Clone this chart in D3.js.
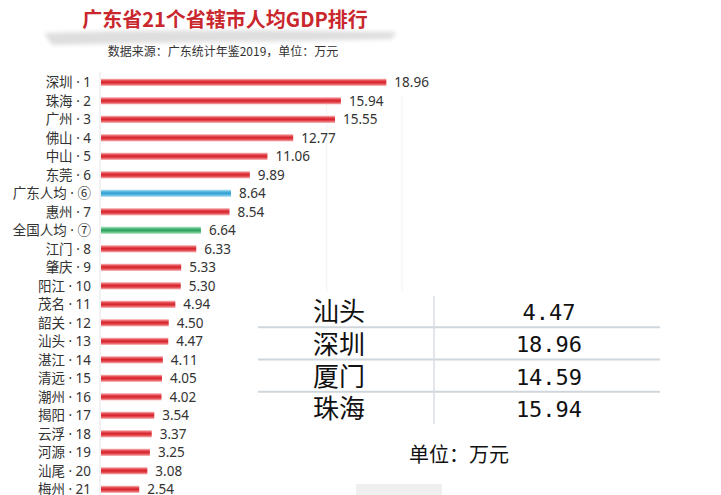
<!DOCTYPE html>
<html>
<head>
<meta charset="utf-8">
<script src="https://cdn.jsdelivr.net/npm/d3@7"></script>
<style>
  body { margin: 0; background: #fff; }
  svg { display: block; font-family: "Noto Sans CJK SC", "Noto Sans", sans-serif; }
</style>
</head>
<body>
<svg id="Vis" width="721" height="495"></svg>
<script>
/*
* DATA
*/
const cities = ["深圳", "珠海", "广州", "佛山", "中山", "东莞", "广东人均", "惠州", "全国人均",
  "江门", "肇庆", "阳江", "茂名", "韶关", "汕头", "湛江", "清远", "潮州", "揭阳", "云浮",
  "河源", "汕尾", "梅州"];
const ranks = ["1", "2", "3", "4", "5", "6", "⑥", "7", "⑦", "8", "9", "10", "11", "12", "13",
  "14", "15", "16", "17", "18", "19", "20", "21"];
const gdp = [18.96, 15.94, 15.55, 12.77, 11.06, 9.89, 8.64, 8.54, 6.64, 6.33, 5.33, 5.30,
  4.94, 4.50, 4.47, 4.11, 4.05, 4.02, 3.54, 3.37, 3.25, 3.08, 2.54];
const barKind = ["red", "red", "red", "red", "red", "red", "blue", "red", "green", "red", "red",
  "red", "red", "red", "red", "red", "red", "red", "red", "red", "red", "red", "red"];

const tableCities = ["汕头", "深圳", "厦门", "珠海"];
const tableValues = ["4.47", "18.96", "14.59", "15.94"];

/*
* SETUP
*/
const svg = d3.select("svg#Vis");

const rows = cities.map((c, i) => ({
  city: c,
  rank: ranks[i],
  label: c + " · " + ranks[i],
  value: gdp[i],
  kind: barKind[i]
}));

const x = d3.scaleLinear().domain([0, 20]).range([101, 402]);
const y = d3.scaleBand()
  .domain(rows.map(d => d.label))
  .range([73, 73 + rows.length * 18.5])
  .paddingInner(0.6)
  .paddingOuter(0.3);

/* Gradients for the tube-like bars */
const defs = svg.append("defs");
const palette = {
  red: ["#fbd0d0", "#e8555b", "#d3222a", "#e8555b", "#f6bcbc"],
  blue: ["#c7e8f6", "#62bde3", "#2f9fd2", "#62bde3", "#bfe4f4"],
  green: ["#c8ecd4", "#5cc184", "#2f9d5c", "#5cc184", "#c0e8cd"]
};
Object.keys(palette).forEach(k => {
  const grad = defs.append("linearGradient")
    .attr("id", "grad-" + k)
    .attr("x1", 0).attr("y1", 0).attr("x2", 0).attr("y2", 1);
  palette[k].forEach((c, i) => {
    grad.append("stop").attr("offset", i / 4).attr("stop-color", c);
  });
});

const blur = defs.append("filter").attr("id", "soft")
  .attr("x", "-10%").attr("y", "-50%").attr("width", "120%").attr("height", "200%");
blur.append("feGaussianBlur").attr("stdDeviation", 2);

/*
* HEADER
*/
svg.append("path")
  .attr("d", "M44,33 L120,31 L260,30 L396,32 L392,39 L300,41 L140,43 L52,45 Z")
  .attr("fill", "#dedede")
  .attr("filter", "url(#soft)");

svg.append("text")
  .attr("x", 225).attr("y", 27)
  .attr("text-anchor", "middle")
  .attr("font-size", 20)
  .attr("font-weight", "bold")
  .attr("fill", "#c9272d")
  .text("广东省21个省辖市人均GDP排行");

svg.append("text")
  .attr("x", 223).attr("y", 56)
  .attr("text-anchor", "middle")
  .attr("font-size", 12)
  .attr("fill", "#333")
  .text("数据来源：广东统计年鉴2019，单位：万元");

/*
* GRID + AXIS
*/
svg.append("g")
  .selectAll("line")
  .data([15, 20])
  .join("line")
  .attr("x1", d => x(d)).attr("x2", d => x(d))
  .attr("y1", 95).attr("y2", 296)
  .attr("stroke", "#f2f2f2");

svg.append("line")
  .attr("x1", 100).attr("x2", 100)
  .attr("y1", 72).attr("y2", 495)
  .attr("stroke", "#e4e4e4");

/*
* BARS
*/
const bars = svg.append("g");

bars.selectAll("rect")
  .data(rows)
  .join("rect")
  .attr("x", x(0))
  .attr("y", d => y(d.label))
  .attr("width", d => x(d.value) - x(0))
  .attr("height", y.bandwidth())
  .attr("fill", d => "url(#grad-" + d.kind + ")");

/* name + narrow middle dot + rank */
const names = bars.selectAll("text.name")
  .data(rows)
  .join("text")
  .attr("class", "name")
  .attr("x", 91)
  .attr("y", d => y(d.label) + y.bandwidth() / 2)
  .attr("dy", "0.36em")
  .attr("text-anchor", "end")
  .attr("font-size", 13.5)
  .attr("fill", "#333");
names.append("tspan").text(d => d.city);
names.append("tspan")
  .attr("font-family", "'Noto Sans', sans-serif")
  .text(d => " · " + (d.rank.length && /\d/.test(d.rank) ? d.rank : ""));
names.filter(d => !/\d/.test(d.rank)).append("tspan").text(d => d.rank);

bars.selectAll("text.val")
  .data(rows)
  .join("text")
  .attr("class", "val")
  .attr("x", d => x(d.value) + 8)
  .attr("y", d => y(d.label) + y.bandwidth() / 2)
  .attr("dy", "0.36em")
  .attr("font-family", "'Noto Sans', sans-serif")
  .attr("font-size", 13.5)
  .attr("fill", "#333")
  .text(d => d.value.toFixed(2));

/*
* COMPARISON TABLE
*/
const tbl = svg.append("g");
const ty = d3.scaleBand().domain(tableCities).range([296, 425]);

tbl.append("rect")
  .attr("x", 256).attr("y", 291)
  .attr("width", 408).attr("height", 136)
  .attr("fill", "#fff");

tbl.selectAll("line.row")
  .data(tableCities.slice(1))
  .join("line")
  .attr("class", "row")
  .attr("x1", 258).attr("x2", 660)
  .attr("y1", d => ty(d) - 1).attr("y2", d => ty(d) - 1)
  .attr("stroke", "#cfd6dc")
  .attr("stroke-width", 2);

tbl.append("line")
  .attr("x1", 434).attr("x2", 434)
  .attr("y1", 296).attr("y2", 424)
  .attr("stroke", "#d8dde2")
  .attr("stroke-width", 1.5);

tbl.selectAll("text.city")
  .data(tableCities)
  .join("text")
  .attr("class", "city")
  .attr("x", 313)
  .attr("y", d => ty(d) + ty.bandwidth() / 2)
  .attr("dy", "0.36em")
  .attr("font-size", 26)
  .attr("fill", "#111")
  .text(d => d);

tbl.selectAll("text.num")
  .data(tableValues)
  .join("text")
  .attr("class", "num")
  .attr("x", 549)
  .attr("y", (d, i) => ty(tableCities[i]) + ty.bandwidth() / 2)
  .attr("dy", "0.36em")
  .attr("text-anchor", "middle")
  .attr("font-family", "'DejaVu Sans Mono', monospace")
  .attr("font-size", 22)
  .attr("fill", "#111")
  .text(d => d);

svg.append("text")
  .attr("x", 409).attr("y", 462)
  .attr("font-size", 20)
  .attr("fill", "#111")
  .text("单位：万元");

svg.append("rect")
  .attr("x", 356).attr("y", 484)
  .attr("width", 86).attr("height", 11)
  .attr("fill", "#efefef");
</script>
</body>
</html>
